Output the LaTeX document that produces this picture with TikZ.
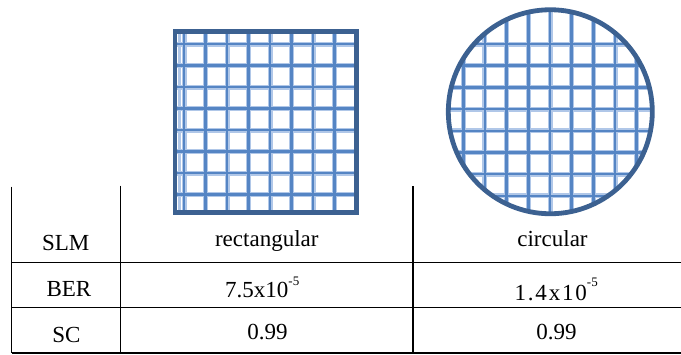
\documentclass[tikz,border=0pt]{standalone}
\usepackage{fontspec}
\setmainfont{Liberation Serif}
\newfontfamily\spaced[LetterSpace=8]{Liberation Serif}
\definecolor{frameblue}{HTML}{3C6191}
\definecolor{gridcore}{HTML}{5585C4}
\definecolor{gridhalo}{HTML}{B0C7E8}
\begin{document}
\begin{tikzpicture}[x=1pt,y=-1pt,
  txt/.style={anchor=base,inner sep=0pt,font=\fontsize{23pt}{23pt}\selectfont},
  txtw/.style={anchor=base west,inner sep=0pt,font=\fontsize{23pt}{23pt}\selectfont},
  rule/.style={line width=1.4pt,black},
  halo/.style={line width=5pt,gridhalo},
  core/.style={line width=2.5pt,gridcore},
  border/.style={line width=4.8pt,frameblue}]
\useasboundingbox (0,0) rectangle (681,354);
% ---- rectangular SLM ----
\begin{scope}
  \clip (175,31.5) rectangle (356.7,212.8);
  \foreach \i in {0,...,7}{
    \draw[halo] (184+21.53*\i,31.5) -- (184+21.53*\i,212.8);
    \draw[halo] (175,44+21.53*\i) -- (356.7,44+21.53*\i);
  }
  \draw[line width=3pt,gridhalo] (179.5,31.5) -- (179.5,212.8);
  \foreach \i in {0,...,7}{
    \draw[core] (184+21.53*\i,31.5) -- (184+21.53*\i,212.8);
    \draw[core] (175,44+21.53*\i) -- (356.7,44+21.53*\i);
  }
\end{scope}
\draw[border] (175,31.5) rectangle (356.7,212.8);
% ---- circular SLM ----
\begin{scope}
  \clip (550.3,111.75) circle (102);
  \foreach \i in {0,...,8}
    \draw[halo] (463.3+21.68*\i,0) -- (463.3+21.68*\i,220);
  \foreach \i in {0,...,7}
    \draw[halo] (440,44+21.7*\i) -- (660,44+21.7*\i);
  \foreach \i in {0,...,8}
    \draw[core] (463.3+21.68*\i,0) -- (463.3+21.68*\i,220);
  \foreach \i in {0,...,7}
    \draw[core] (440,44+21.7*\i) -- (660,44+21.7*\i);
\end{scope}
\draw[border] (550.3,111.75) circle (102);
% ---- table ----
\draw[rule] (11.7,186.5) -- (11.7,353.3);
\draw[rule] (120.7,185.5) -- (120.7,353.3);
\draw[rule] (413,186) -- (413,353.3);
\draw[rule] (11.7,262.2) -- (681,262.2);
\draw[rule] (11.7,307.2) -- (681,307.2);
\draw[rule] (11.7,353) -- (681,353);
% ---- texts ----
\node[txt] (slm) at (65.8,250) {SLM};
\node[txt] (rect) at (266.8,246.5) {rectangular};
\node[txt] (circ) at (552.5,246) {circular};
\node[txt] (ber) at (68.9,296) {BER};
\node[txtw] (ber1) at (225,297) {7.5x10\raisebox{11.5pt}{\fontsize{13pt}{13pt}\selectfont -5}};
\node[txtw] (ber2) at (514.3,300) {\spaced 1.4x10\raisebox{14pt}{\fontsize{13pt}{13pt}\selectfont\rmfamily -5}};
\node[txt] (sc) at (66.5,342) {SC};
\node[txt] (sc1) at (267.5,339) {0.99};
\node[txt] (sc2) at (556.5,339) {0.99};
\end{tikzpicture}
\end{document}
